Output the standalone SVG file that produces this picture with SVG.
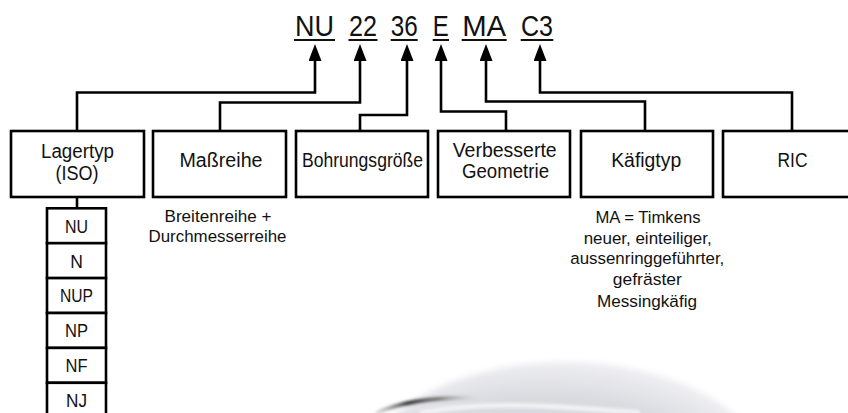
<svg xmlns="http://www.w3.org/2000/svg" width="848" height="413" viewBox="0 0 848 413">
<style>
text{font-family:"Liberation Sans",Arial,sans-serif;fill:#111;text-anchor:middle}
.code{font-size:29.5px}
.lbl{font-size:20px}
.row{font-size:17.5px}
.note{font-size:16.3px}
.box{fill:#fff;stroke:#000;stroke-width:2.6}
.conn{fill:none;stroke:#000;stroke-width:2.6}
.ul{stroke:#111;stroke-width:2}
</style>
<defs>
<marker id="ah" markerUnits="userSpaceOnUse" markerWidth="17" markerHeight="13" refX="8" refY="6.5" orient="auto">
<path d="M0,0 L17,6.5 L0,13 z" fill="#000"/>
</marker>
<radialGradient id="brg" cx="0.45" cy="0.6" r="0.6">
<stop offset="0" stop-color="#d0d2d8"/>
<stop offset="0.75" stop-color="#d9dadf"/>
<stop offset="1" stop-color="#eeeef1"/>
</radialGradient>
<linearGradient id="dk" x1="0" y1="0" x2="1" y2="0">
<stop offset="0" stop-color="#999" stop-opacity="0.3"/>
<stop offset="0.3" stop-color="#2a2a2a"/>
<stop offset="0.6" stop-color="#777"/>
<stop offset="1" stop-color="#ccc" stop-opacity="0"/>
</linearGradient>
<filter id="soft" x="-20%" y="-20%" width="140%" height="140%">
<feGaussianBlur stdDeviation="3"/>
</filter>
<filter id="soft2" x="-20%" y="-50%" width="140%" height="200%">
<feGaussianBlur stdDeviation="1.5"/>
</filter>
</defs>

<g id="bearing">
<ellipse cx="565" cy="482" rx="205" ry="120" fill="url(#brg)" filter="url(#soft)"/>
<path d="M376,413 Q415,396 480,398" fill="none" stroke="url(#dk)" stroke-width="4" filter="url(#soft2)"/>
<path d="M420,413 Q470,403 540,406 Q600,409 640,413" fill="none" stroke="#f2f2f4" stroke-width="5" filter="url(#soft2)"/>
</g>

<g id="code">
<text class="code" x="314.5" y="36" textLength="39" lengthAdjust="spacingAndGlyphs">NU</text>
<text class="code" x="363" y="36" textLength="28" lengthAdjust="spacingAndGlyphs">22</text>
<text class="code" x="404.2" y="36" textLength="27" lengthAdjust="spacingAndGlyphs">36</text>
<text class="code" x="440.8" y="36" textLength="16" lengthAdjust="spacingAndGlyphs">E</text>
<text class="code" x="484.2" y="36" textLength="44" lengthAdjust="spacingAndGlyphs">MA</text>
<text class="code" x="537" y="36" textLength="32" lengthAdjust="spacingAndGlyphs">C3</text>
<line class="ul" x1="294" y1="40" x2="335" y2="40"/>
<line class="ul" x1="348.5" y1="40" x2="377.5" y2="40"/>
<line class="ul" x1="390.7" y1="40" x2="417.7" y2="40"/>
<line class="ul" x1="432.7" y1="40" x2="449" y2="40"/>
<line class="ul" x1="461.7" y1="40" x2="506.7" y2="40"/>
<line class="ul" x1="520.7" y1="40" x2="553.3" y2="40"/>
</g>

<g id="connectors">
<path class="conn" d="M77,131 V92.5 H315 V53" marker-end="url(#ah)"/>
<path class="conn" d="M220,131 V102.5 H360 V53" marker-end="url(#ah)"/>
<path class="conn" d="M360,131 V115 H407 V53" marker-end="url(#ah)"/>
<path class="conn" d="M506,131 V111.5 H441 V53" marker-end="url(#ah)"/>
<path class="conn" d="M645,131 V101.5 H486 V53" marker-end="url(#ah)"/>
<path class="conn" d="M792,131 V92.5 H540 V53" marker-end="url(#ah)"/>
<path class="conn" d="M77,197 V208.3"/>
</g>

<g id="lagertyp">
<rect class="box" x="11" y="131" width="133" height="66"/>
<text class="lbl" x="77.5" y="158.3" textLength="73" lengthAdjust="spacingAndGlyphs">Lagertyp</text>
<text class="lbl" x="77" y="179.5" textLength="43" lengthAdjust="spacingAndGlyphs">(ISO)</text>
</g>
<g id="massreihe">
<rect class="box" x="153" y="131" width="133" height="66"/>
<text class="lbl" x="221" y="166.7" textLength="83" lengthAdjust="spacingAndGlyphs">Maßreihe</text>
</g>
<g id="bohrung">
<rect class="box" x="296" y="131" width="132" height="66"/>
<text class="lbl" x="362.5" y="166.7" textLength="121" lengthAdjust="spacingAndGlyphs">Bohrungsgröße</text>
</g>
<g id="geometrie">
<rect class="box" x="438" y="131" width="132" height="66"/>
<text class="lbl" x="504.7" y="156.7" textLength="104" lengthAdjust="spacingAndGlyphs">Verbesserte</text>
<text class="lbl" x="505.5" y="178.3" textLength="87" lengthAdjust="spacingAndGlyphs">Geometrie</text>
</g>
<g id="kaefigtyp">
<rect class="box" x="581" y="131" width="132" height="66"/>
<text class="lbl" x="646.2" y="166.7" textLength="70" lengthAdjust="spacingAndGlyphs">Käfigtyp</text>
</g>
<g id="ric">
<rect class="box" x="723" y="131" width="140" height="66"/>
<text class="lbl" x="792.5" y="166.7" textLength="30" lengthAdjust="spacingAndGlyphs">RIC</text>
</g>

<g id="typliste">
<rect class="box" x="47" y="208.3" width="59" height="34.9"/>
<rect class="box" x="47" y="243.2" width="59" height="34.9"/>
<rect class="box" x="47" y="278.1" width="59" height="34.9"/>
<rect class="box" x="47" y="313" width="59" height="34.9"/>
<rect class="box" x="47" y="347.9" width="59" height="34.9"/>
<rect class="box" x="47" y="382.8" width="59" height="34.9"/>
<text class="row" x="76.5" y="233.4" textLength="23" lengthAdjust="spacingAndGlyphs">NU</text>
<text class="row" x="76.5" y="268.3">N</text>
<text class="row" x="76.5" y="302.2" textLength="33" lengthAdjust="spacingAndGlyphs">NUP</text>
<text class="row" x="76.5" y="336.9" textLength="23" lengthAdjust="spacingAndGlyphs">NP</text>
<text class="row" x="76.5" y="371.7" textLength="22" lengthAdjust="spacingAndGlyphs">NF</text>
<text class="row" x="76.5" y="406.6" textLength="21" lengthAdjust="spacingAndGlyphs">NJ</text>
</g>

<g id="note-massreihe">
<text class="note" x="218" y="221.7" textLength="107" lengthAdjust="spacingAndGlyphs">Breitenreihe +</text>
<text class="note" x="217.5" y="242.3" textLength="138" lengthAdjust="spacingAndGlyphs">Durchmesserreihe</text>
</g>
<g id="note-kaefig">
<text class="note" x="648" y="222.7" textLength="105" lengthAdjust="spacingAndGlyphs">MA = Timkens</text>
<text class="note" x="647.7" y="243.5" textLength="128" lengthAdjust="spacingAndGlyphs">neuer, einteiliger,</text>
<text class="note" x="647.3" y="264.3" textLength="154" lengthAdjust="spacingAndGlyphs">aussenringgeführter,</text>
<text class="note" x="647.3" y="285.3" textLength="69" lengthAdjust="spacingAndGlyphs">gefräster</text>
<text class="note" x="647" y="306.5" textLength="100" lengthAdjust="spacingAndGlyphs">Messingkäfig</text>
</g>
</svg>
